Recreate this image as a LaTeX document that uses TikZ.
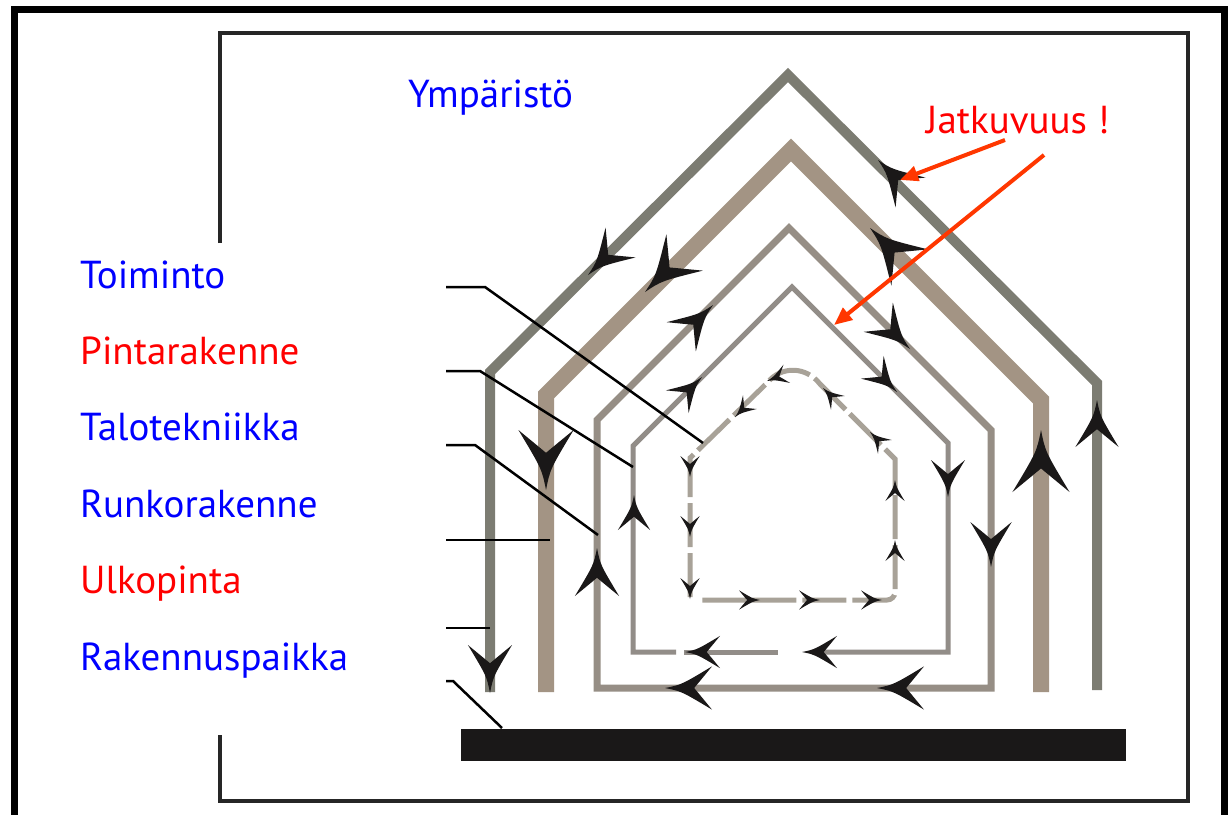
\documentclass[tikz,border=0pt]{standalone}
\usepackage{fontspec}
\setmainfont{PT Sans}
\usetikzlibrary{arrows.meta}
\definecolor{wallA}{RGB}{124,124,114}
\definecolor{wallB}{RGB}{163,148,132}
\definecolor{wallC}{RGB}{150,142,133}
\definecolor{wallD}{RGB}{146,141,136}
\definecolor{wallE}{RGB}{168,162,152}
\definecolor{tipc}{RGB}{26,24,24}
\definecolor{lblblue}{RGB}{0,0,255}
\definecolor{lblred}{RGB}{255,0,0}
\definecolor{jatred}{RGB}{255,55,0}
\tikzset{flow/.pic={\fill[tipc] (0,0) .. controls (-0.35,0.07) .. (-1,0.46)
  .. controls (-0.72,0.12) .. (-0.62,0) .. controls (-0.72,-0.12) .. (-1,-0.46)
  .. controls (-0.35,-0.07) .. (0,0);}}
\begin{document}
\begin{tikzpicture}[x=1pt,y=-1pt,line join=miter,
    lbl/.style={anchor=base west,inner sep=0pt,font=\fontsize{39}{41}\selectfont},
    lead/.style={line width=2.5pt,black},
    jatarrow/.style={line width=4pt,jatred,-{Triangle[length=18pt,width=15pt]}}]
  \useasboundingbox (0,0) rectangle (1228,814);
  \fill[white] (0,0) rectangle (1228,814);
  \draw[line width=7pt] (14.5,850) -- (14.5,9) -- (1224,9) -- (1224,850);
  \draw[line width=4pt,black!85] (220,243) -- (220,33) -- (1188,33) -- (1188,801) -- (220,801) -- (220,735);
  \node[lbl,lblblue] (toim) at (80,288) {Toiminto};
  \node[lbl,lblred] (pint) at (80,364) {Pintarakenne};
  \node[lbl,lblblue] (talo) at (80,440) {Talotekniikka};
  \node[lbl,lblblue] (runko) at (80,517) {Runkorakenne};
  \node[lbl,lblred] (ulko) at (80,593) {Ulkopinta};
  \node[lbl,lblblue] (paikka) at (80,670) {Rakennuspaikka};
  \node[lbl,lblblue] (ymp) at (408,107) {Ympäristö};
  \node[lbl,lblred] (jat) at (926,133) {Jatkuvuus !};
  \fill[tipc] (461,729) rectangle (1126,761);
  \draw[wallA,line width=10pt] (490,692) -- (490,372) -- (788,75) -- (1097,383) -- (1097,690);
  \draw[wallB,line width=16pt] (546,692) -- (546,395) -- (791,150) -- (1041,400) -- (1041,692);
  \draw[wallC,line width=7pt] (597,688) -- (597,420) -- (789,228) -- (991,430) -- (991,688) -- cycle;
  \draw[wallD,line width=5pt] (676,652) -- (633,652) -- (633,446) -- (792,287) -- (948,443) -- (948,652) -- (812,652);
  \draw[wallD,line width=5pt] (684,652) -- (778,652);
  \draw[wallE,line width=5pt,dash pattern=on 44pt off 6pt] (690,597) -- (690,458) -- (768,382)
    .. controls (781,366) and (806,366) .. (820,384) -- (895,459) [rounded corners=8pt] -- (895,600) -- (700,600);
  \begin{scope}[lead]
    \draw (446,287) -- (485,287) -- (703,443);
    \draw (446,371) -- (480,371) -- (633,467);
    \draw (446,445) -- (475,445) -- (598,535);
    \draw (446,540) -- (550,540);
    \draw (446,628) -- (490,628);
    \draw (446,681) -- (453,681) -- (502,728);
  \end{scope}
  \pic[rotate=225,scale=46] at (588,275) {flow};
  \pic[rotate=135,scale=46] at (878,160) {flow};
  \pic[rotate=90,scale=47] at (1097,400) {flow};
  \pic[rotate=-90,scale=48] at (490,693) {flow};
  \pic[rotate=225,scale=56] at (645,292) {flow};
  \pic[rotate=135,scale=56] at (870,228) {flow};
  \pic[rotate=-90,scale=60] at (546,490) {flow};
  \pic[rotate=90,scale=62] at (1041,430) {flow};
  \pic[rotate=90,scale=48] at (597,548) {flow};
  \pic[rotate=45,scale=45] at (713,305) {flow};
  \pic[rotate=-45,scale=45] at (910,349) {flow};
  \pic[rotate=-90,scale=45] at (991,567) {flow};
  \pic[rotate=180,scale=47] at (665,688) {flow};
  \pic[rotate=180,scale=47] at (877,688) {flow};
  \pic[rotate=90,scale=35] at (634,495) {flow};
  \pic[rotate=45,scale=35] at (702,377) {flow};
  \pic[rotate=-45,scale=35] at (897,392) {flow};
  \pic[rotate=-90,scale=37] at (948,497) {flow};
  \pic[rotate=180,scale=35] at (685,652) {flow};
  \pic[rotate=180,scale=35] at (802,652) {flow};
  \pic[rotate=-90,scale=21] at (690,477) {flow};
  \pic[rotate=-90,scale=21] at (690,537) {flow};
  \pic[rotate=-90,scale=21] at (690,599) {flow};
  \pic[scale=21] at (760,600) {flow};
  \pic[scale=21] at (820,600) {flow};
  \pic[scale=21] at (882,600) {flow};
  \pic[rotate=90,scale=21] at (895,480) {flow};
  \pic[rotate=90,scale=21] at (895,540) {flow};
  \pic[rotate=135,scale=21] at (870,432) {flow};
  \pic[rotate=135,scale=21] at (823,388) {flow};
  \pic[rotate=200,scale=21] at (767,381) {flow};
  \pic[rotate=225,scale=21] at (735,417) {flow};
  \draw[jatarrow] (1005,140) -- (900,180);
  \draw[jatarrow] (1044,155) -- (834,325);
\end{tikzpicture}
\end{document}
